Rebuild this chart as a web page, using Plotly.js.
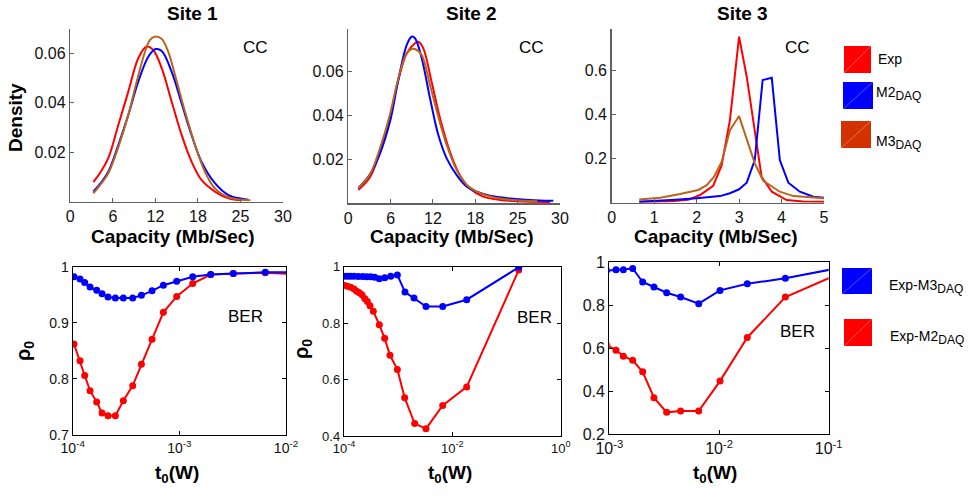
<!DOCTYPE html>
<html>
<head>
<meta charset="utf-8">
<script src="https://cdn.plot.ly/plotly-3.0.1.min.js"></script>
<style>html,body{margin:0;padding:0;background:#fff;}#chart{width:973px;height:499px;}</style>
</head>
<body>
<div id="chart"></div>
<script>
// ---------- DATA ----------
// Site 1 capacity densities
var s1ExpX = [3.25, 4.3, 5.36, 6.77, 8.18, 9.59, 10.77, 11.7, 12.9, 14.3, 15.7, 17.1, 18.5, 20.4, 22.3, 24.2];
var s1ExpY = [0.0078, 0.012, 0.0175, 0.0309, 0.0444, 0.0579, 0.0626, 0.0612, 0.0538, 0.0403, 0.0269, 0.0161, 0.0087, 0.0040, 0.0013, 0.0005];
var s1M2X = [3.25, 4.3, 5.36, 6.77, 8.18, 9.59, 11.0, 12.04, 12.9, 14.3, 15.7, 17.1, 18.5, 20.4, 22.3, 24.2, 25.1];
var s1M2Y = [0.004, 0.0075, 0.012, 0.0228, 0.035, 0.0484, 0.0585, 0.0616, 0.0608, 0.0524, 0.0397, 0.0269, 0.0161, 0.0074, 0.0026, 0.0011, 0.0007];
var s1M3X = [3.25, 4.3, 5.36, 6.77, 8.18, 9.36, 10.54, 11.24, 11.95, 12.9, 13.82, 14.77, 16.18, 17.6, 19.0, 20.4, 22.3, 24.2, 25.4];
var s1M3Y = [0.0033, 0.007, 0.0114, 0.022, 0.035, 0.0484, 0.0605, 0.0653, 0.0666, 0.0657, 0.0605, 0.0511, 0.0363, 0.0228, 0.012, 0.0053, 0.0017, 0.0007, 0.0005];
// Site 2 capacity densities
var s2ExpX = [1.42, 3.07, 4.49, 5.91, 7.09, 8.27, 9.45, 9.92, 10.63, 11.8, 13.0, 14.4, 15.8, 17.2, 19.1, 21.5, 23.9, 28.6];
var s2ExpY = [0.0059, 0.0117, 0.0233, 0.0385, 0.0559, 0.068, 0.0726, 0.0733, 0.0703, 0.0551, 0.0385, 0.0233, 0.0127, 0.0067, 0.0029, 0.0014, 0.0008, 0.0005];
var s2M2X = [1.42, 3.07, 4.49, 5.91, 7.09, 8.27, 8.98, 9.45, 10.4, 11.58, 12.76, 13.94, 15.36, 16.8, 18.2, 20.1, 22.9, 25.7, 29.05];
var s2M2Y = [0.0067, 0.013, 0.0225, 0.037, 0.056, 0.0718, 0.0756, 0.0749, 0.0658, 0.0476, 0.0309, 0.0203, 0.0127, 0.0074, 0.0051, 0.0033, 0.0021, 0.0014, 0.001];
var s2M3X = [1.42, 3.07, 4.49, 5.91, 7.09, 8.27, 8.98, 9.45, 10.4, 11.58, 12.76, 13.94, 15.36, 16.8, 18.2, 20.1, 22.0, 24.9, 26.8];
var s2M3Y = [0.0067, 0.013, 0.0249, 0.0403, 0.0567, 0.068, 0.070, 0.070, 0.0673, 0.0536, 0.0392, 0.0264, 0.015, 0.0082, 0.0052, 0.003, 0.0018, 0.001, 0.0008];
// Site 3 capacity densities
var s3ExpX = [0.65, 1.0, 1.4, 1.8, 2.08, 2.39, 2.59, 2.785, 3.0, 3.18, 3.37, 3.53, 3.77, 4.12, 4.5, 5.0];
var s3ExpY = [0.004, 0.005, 0.007, 0.013, 0.035, 0.077, 0.171, 0.376, 0.755, 0.573, 0.330, 0.118, 0.05, 0.012, 0.005, 0.004];
var s3M2X = [0.65, 1.0, 1.5, 2.0, 2.55, 2.785, 3.0, 3.18, 3.37, 3.555, 3.77, 3.96, 4.16, 4.43, 4.75, 5.0];
var s3M2Y = [0.004, 0.007, 0.013, 0.02, 0.030, 0.043, 0.061, 0.091, 0.194, 0.558, 0.568, 0.194, 0.091, 0.05, 0.027, 0.023];
var s3M3X = [0.65, 1.14, 1.61, 2.04, 2.24, 2.41, 2.59, 2.785, 3.0, 3.18, 3.37, 3.57, 3.77, 3.96, 4.28, 5.0];
var s3M3Y = [0.015, 0.023, 0.040, 0.058, 0.080, 0.118, 0.186, 0.330, 0.394, 0.293, 0.179, 0.10, 0.073, 0.05, 0.030, 0.02];

// BER correlation vs t0
var b1T = [1.029e-4, 1.172e-4, 1.296e-4, 1.454e-4, 1.679e-4, 1.884e-4, 2.143e-4, 2.512e-4, 2.985e-4, 3.652e-4, 4.406e-4, 5.546e-4, 7.079e-4, 9.441e-4, 1.334e-3, 1.968e-3, 3.206e-3, 6.397e-3, 1.2e-2];
var b1M3 = [0.982, 0.978, 0.972, 0.964, 0.958, 0.952, 0.946, 0.944, 0.944, 0.944, 0.949, 0.957, 0.967, 0.974, 0.982, 0.986, 0.988, 0.990, 0.990];
var b1M2 = [0.862, 0.8325, 0.806, 0.779, 0.759, 0.739, 0.7345, 0.7345, 0.761, 0.788, 0.826, 0.8705, 0.9186, 0.947, 0.970, 0.986, 0.988, 0.989, 0.987];

var b2TM3 = [1.0e-4, 1.153e-4, 1.327e-4, 1.531e-4, 1.841e-4, 2.213e-4, 2.624e-4, 3.112e-4, 3.690e-4, 4.487e-4, 5.636e-4, 7.278e-4, 9.661e-4, 1.337e-3, 1.959e-3, 3.266e-3, 6.637e-3, 1.841e-2, 0.1679];
var b2M3 = [0.966, 0.966, 0.966, 0.966, 0.965, 0.965, 0.964, 0.964, 0.963, 0.957, 0.961, 0.966, 0.971, 0.910, 0.889, 0.859, 0.859, 0.883, 0.998];
var b2TM2 = [1.0e-4, 1.153e-4, 1.327e-4, 1.531e-4, 1.714e-4, 1.919e-4, 2.148e-4, 2.410e-4, 2.698e-4, 3.020e-4, 3.475e-4, 4.487e-4, 5.636e-4, 7.063e-4, 9.661e-4, 1.318e-3, 2.018e-3, 3.266e-3, 6.637e-3, 1.841e-2, 0.1679];
var b2M2 = [0.934, 0.931, 0.927, 0.921, 0.913, 0.908, 0.901, 0.887, 0.877, 0.862, 0.842, 0.794, 0.746, 0.686, 0.636, 0.536, 0.444, 0.426, 0.508, 0.574, 0.988];

var b3T = [9.5e-4, 1.151e-3, 1.343e-3, 1.633e-3, 2.014e-3, 2.553e-3, 3.334e-3, 4.467e-3, 6.531e-3, 1.021e-2, 1.811e-2, 4.027e-2, 0.12];
var b3M3 = [0.960, 0.964, 0.964, 0.970, 0.907, 0.884, 0.857, 0.837, 0.806, 0.868, 0.899, 0.924, 0.971];
var b3M2 = [0.613, 0.590, 0.562, 0.543, 0.489, 0.369, 0.3006, 0.307, 0.307, 0.446, 0.649, 0.837, 0.942];

var capTickVals = [0, 6, 12, 18, 24, 30];
var capTickText = ['0', '6', '12', '18', '25', '30'];

// ---------- STYLE ----------
var RED = '#ff0000', BLUE = '#0000ff', BROWN = '#b8651b', ORANGE = '#d43100';
var FONT = 'Arial, "Liberation Sans", sans-serif';
var W = 973, H = 499;
function px(x) { return x / W; }
function py(y) { return 1 - y / H; }

function curve(x, y, color, xa, ya, spline) {
  return { x: x, y: y, type: 'scatter', mode: 'lines', xaxis: xa, yaxis: ya,
    line: { color: color, width: 2, shape: spline ? 'spline' : 'linear', smoothing: 1 }, hoverinfo: 'skip' };
}
function berLine(x, y, color, xa, ya) {
  return { x: x, y: y, type: 'scatter', mode: 'lines+markers', xaxis: xa, yaxis: ya,
    line: { color: color, width: 2 }, marker: { color: color, size: 7 }, hoverinfo: 'skip' };
}

var data = [
  curve(s1ExpX, s1ExpY, RED, 'x', 'y', true),
  curve(s1M2X, s1M2Y, BLUE, 'x', 'y', true),
  curve(s1M3X, s1M3Y, BROWN, 'x', 'y', true),
  curve(s2ExpX, s2ExpY, RED, 'x2', 'y2', true),
  curve(s2M2X, s2M2Y, BLUE, 'x2', 'y2', true),
  curve(s2M3X, s2M3Y, BROWN, 'x2', 'y2', true),
  curve(s3ExpX, s3ExpY, RED, 'x3', 'y3', false),
  curve(s3M2X, s3M2Y, BLUE, 'x3', 'y3', false),
  curve(s3M3X, s3M3Y, BROWN, 'x3', 'y3', false),
  berLine(b1T, b1M2, RED, 'x4', 'y4'),
  berLine(b1T, b1M3, BLUE, 'x4', 'y4'),
  berLine(b2TM2, b2M2, RED, 'x5', 'y5'),
  berLine(b2TM3, b2M3, BLUE, 'x5', 'y5'),
  berLine(b3T, b3M2, RED, 'x6', 'y6'),
  berLine(b3T, b3M3, BLUE, 'x6', 'y6')
];

function topX(d, range, tv, tt, anchor) {
  return { domain: d, range: range, anchor: anchor, tickvals: tv, ticktext: tt,
    showline: true, linecolor: '#606060', linewidth: 1.5, mirror: false,
    ticks: 'inside', ticklen: 4, tickcolor: '#606060', showgrid: false, zeroline: false,
    tickfont: { family: FONT, size: 16, color: '#111' } };
}
function topY(d, range, tv, anchor) {
  return { domain: d, range: range, anchor: anchor, tickvals: tv, ticktext: tv.map(String),
    showline: true, linecolor: '#606060', linewidth: 1.5, mirror: false,
    ticks: 'inside', ticklen: 4, tickcolor: '#606060', showgrid: false, zeroline: false,
    tickfont: { family: FONT, size: 16, color: '#111' } };
}
function botX(d, range, tv, tt, anchor, fs) {
  return { domain: d, type: 'log', range: range, anchor: anchor, tickvals: tv, ticktext: tt,
    showline: true, linecolor: '#000', linewidth: 1.2, mirror: 'ticks',
    ticks: 'inside', ticklen: 4, tickcolor: '#000', showgrid: false, zeroline: false,
    tickfont: { family: FONT, size: fs, color: '#111' } };
}
function botY(d, range, tv, tt, anchor, fs) {
  return { domain: d, range: range, anchor: anchor, tickvals: tv, ticktext: tt,
    showline: true, linecolor: '#000', linewidth: 1.2, mirror: 'ticks',
    ticks: 'inside', ticklen: 4, tickcolor: '#000', showgrid: false, zeroline: false,
    tickfont: { family: FONT, size: fs, color: '#111' } };
}

function ann(x, y, text, size, o) {
  o = o || {};
  return { xref: 'paper', yref: 'paper', x: px(x), y: py(y), text: text, showarrow: false,
    xanchor: o.xanchor || 'center', yanchor: o.yanchor || 'middle', textangle: o.angle || 0,
    font: { family: FONT, size: size, color: '#000' } };
}
var SUB = '<sub><span style="font-size:12px">DAQ</span></sub>';

var annotations = [
  ann(192, 13, '<b>Site 1</b>', 19),
  ann(471, 13, '<b>Site 2</b>', 19),
  ann(742, 13, '<b>Site 3</b>', 19),
  ann(173, 237, '<b>Capacity (Mb/Sec)</b>', 19),
  ann(452, 237, '<b>Capacity (Mb/Sec)</b>', 19),
  ann(716, 237, '<b>Capacity (Mb/Sec)</b>', 19),
  ann(15, 118, '<b>Density</b>', 19, { angle: -90 }),
  ann(255, 48, 'CC', 17),
  ann(531, 48, 'CC', 17),
  ann(797, 48, 'CC', 17),
  ann(245, 316, 'BER', 17),
  ann(534, 317, 'BER', 17),
  ann(797, 331, 'BER', 17),
  ann(24, 351, '<b>ρ<sub>0</sub></b>', 20, { angle: -90 }),
  ann(302, 349, '<b>ρ<sub>0</sub></b>', 20, { angle: -90 }),
  ann(177, 474, '<b>t<sub>0</sub>(W)</b>', 19),
  ann(450, 474, '<b>t<sub>0</sub>(W)</b>', 19),
  ann(715, 474, '<b>t<sub>0</sub>(W)</b>', 19),
  ann(876, 59, 'Exp', 14, { xanchor: 'left' }),
  ann(874, 94, 'M2' + SUB, 14, { xanchor: 'left' }),
  ann(874, 142, 'M3' + SUB, 14, { xanchor: 'left' }),
  ann(887, 286, 'Exp-M3' + SUB, 14, { xanchor: 'left' }),
  ann(888, 337, 'Exp-M2' + SUB, 14, { xanchor: 'left' })
];

function square(x0, y0, x1, y1, color) {
  return [
    { type: 'rect', xref: 'paper', yref: 'paper', x0: px(x0), x1: px(x1), y0: py(y1), y1: py(y0),
      fillcolor: color, line: { width: 0 }, layer: 'above' },
    { type: 'line', xref: 'paper', yref: 'paper', x0: px(x0), x1: px(x1), y0: py(y1), y1: py(y0),
      line: { color: 'rgba(255,255,255,0.45)', width: 0.7 }, layer: 'above' }
  ];
}
var shapes = [].concat(
  square(844, 46, 871, 73, RED),
  square(843, 82, 873, 109, BLUE),
  square(841, 121, 871, 148, ORANGE),
  square(842, 268, 872, 294, BLUE),
  square(844, 319, 872, 346, RED)
);

var layout = {
  width: W, height: H, margin: { l: 0, r: 0, t: 0, b: 0 },
  paper_bgcolor: '#fff', plot_bgcolor: 'rgba(0,0,0,0)', showlegend: false,
  font: { family: FONT },
  xaxis: topX([px(70.3), px(283)], [0, 30], capTickVals, capTickText, 'y'),
  yaxis: topY([py(201.5), py(29)], [0, 0.0697], [0.02, 0.04, 0.06], 'x'),
  xaxis2: topX([px(348.3), px(560)], [0, 30], capTickVals, capTickText, 'y2'),
  yaxis2: topY([py(203), py(29)], [0, 0.0791], [0.02, 0.04, 0.06], 'x2'),
  xaxis3: topX([px(611.7), px(824)], [0, 5], [0, 1, 2, 3, 4, 5], ['0', '1', '2', '3', '4', '5'], 'y3'),
  yaxis3: topY([py(202.7), py(29)], [0, 0.79], [0.2, 0.4, 0.6], 'x3'),
  xaxis4: botX([px(72.7), px(286)], [-4, -2], [1e-4, 1e-3, 1e-2], ['10<sup>-4</sup>', '10<sup>-3</sup>', '10<sup>-2</sup>'], 'y4', 14),
  yaxis4: botY([py(435), py(266.7)], [0.7, 1], [0.7, 0.8, 0.9, 1], ['0.7', '0.8', '0.9', '1'], 'x4', 14),
  xaxis5: botX([px(344), px(560.7)], [-4, 0], [1e-4, 1e-2, 1], ['10<sup>-4</sup>', '10<sup>-2</sup>', '10<sup>0</sup>'], 'y5', 13),
  yaxis5: botY([py(436), py(266.7)], [0.4, 1], [0.4, 0.6, 0.8, 1], ['0.4', '0.6', '0.8', '1'], 'x5', 13),
  xaxis6: botX([px(609.3), px(828.7)], [-3, -1], [1e-3, 1e-2, 1e-1], ['10<sup>-3</sup>', '10<sup>-2</sup>', '10<sup>-1</sup>'], 'y6', 16),
  yaxis6: botY([py(434), py(262)], [0.2, 1], [0.2, 0.4, 0.6, 0.8, 1], ['0.2', '0.4', '0.6', '0.8', '1'], 'x6', 16),
  annotations: annotations,
  shapes: shapes
};

Plotly.newPlot('chart', data, layout, { staticPlot: true, displayModeBar: false });
</script>
</body>
</html>
